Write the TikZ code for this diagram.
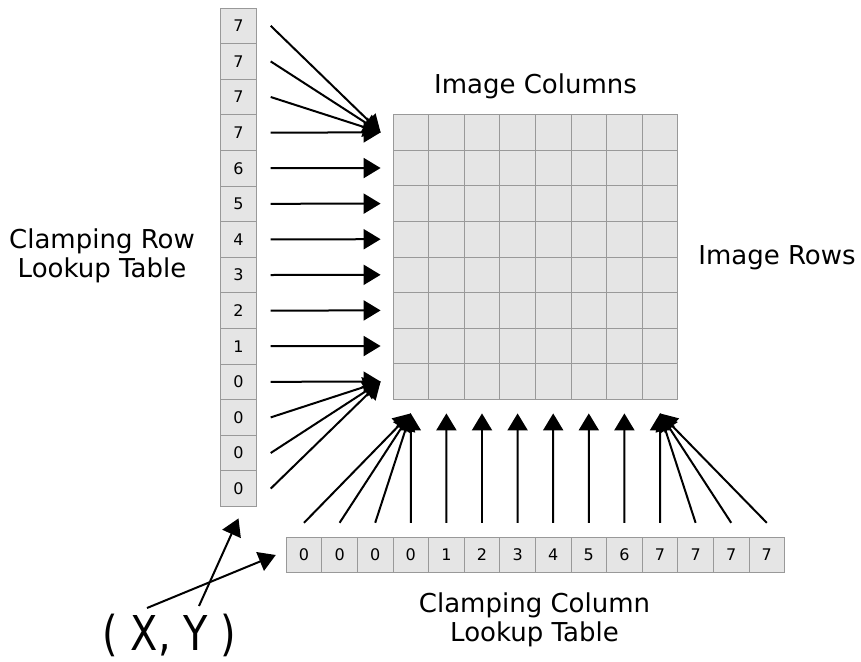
\documentclass[tikz,border=0pt]{standalone}
\usepackage{fontspec}
\setmainfont{DejaVu Sans}
\usetikzlibrary{arrows.meta}

\begin{document}
\begin{tikzpicture}[x=0.75pt,y=-0.75pt]
\tikzstyle{cell}=[draw=black!40,fill=black!10,line width=0.6pt,minimum size=26.7pt,inner sep=0pt,font=\fontsize{12}{14}\selectfont]
\tikzstyle{tablename}=[font=\fontsize{19.5}{22}\selectfont,align=center]
\tikzstyle{pointer}=[line width=1.5pt,-{Triangle[length=12.75pt,width=15pt]}]
\useasboundingbox (0,0) rectangle (861,661);
\foreach \v [count=\i from 0] in {7,7,7,7,6,5,4,3,2,1,0,0,0,0}
  \node[cell] (r\i) at (238.5,{25.8+35.6*\i}) {\v};
\foreach \r in {0,...,7}
  \foreach \c in {0,...,7}
    \node[cell] (g-\r-\c) at ({410.8+35.6*\c},{132.4+35.6*\r}) {};
\foreach \v [count=\j from 0] in {0,0,0,0,1,2,3,4,5,6,7,7,7,7}
  \node[cell] (c\j) at ({304+35.6*\j},555) {\v};
\node[tablename] (colname) at (535.5,86.5) {Image Columns};
\node[tablename] (rowname) at (777,257.3) {Image Rows};
\node[tablename] (rowlut) at (102,256) {Clamping Row\\Lookup Table};
\node[tablename] (collut) at (534.5,620) {Clamping Column\\Lookup Table};
\node[font=\fontsize{36}{40}\selectfont,inner sep=0pt] (xy) at (169.5,635.5) {\scalebox{0.83}[1]{( X, Y )}};
\coordinate (xy-x) at (147,608);
\coordinate (xy-y) at (199,606);
\foreach \i in {0,...,13}{
  \pgfmathtruncatemacro\t{max(0,min(7,\i-3))}
  \draw[pointer] ([xshift=10.5pt]r\i.east) -- ([xshift=-9pt]g-\t-0.west);
}
\foreach \j in {0,...,13}{
  \pgfmathtruncatemacro\t{max(0,min(7,\j-3))}
  \draw[pointer] ([yshift=10.5pt]c\j.north) -- ([yshift=-10.2pt]g-7-\t.south);
}
\draw[pointer] (xy-x) -- ([xshift=-7.5pt]c0.west);
\draw[pointer] (xy-y) -- ([yshift=-8.7pt]r13.south);
\end{tikzpicture}
\end{document}
